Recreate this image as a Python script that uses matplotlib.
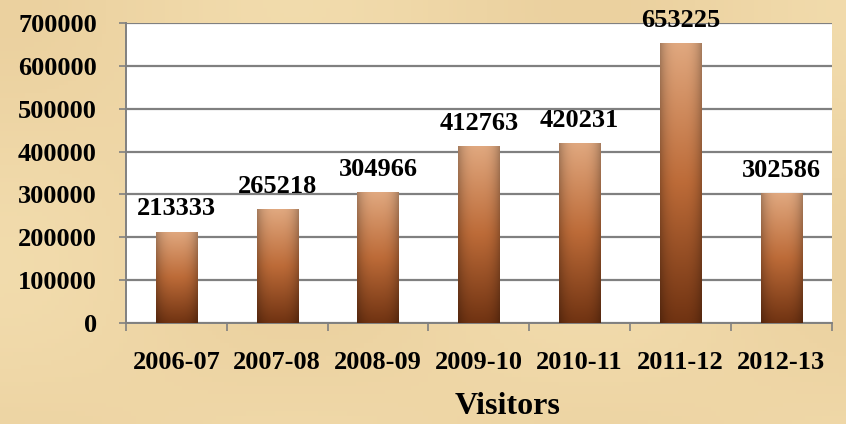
import matplotlib
matplotlib.use("Agg")
import matplotlib.pyplot as plt
import numpy as np

years = ["2006-07", "2007-08", "2008-09", "2009-10", "2010-11", "2011-12", "2012-13"]
visitors = [213333, 265218, 304966, 412763, 420231, 653225, 302586]
y_ticks = [0, 100000, 200000, 300000, 400000, 500000, 600000, 700000]

plt.rcParams['font.family'] = ['Liberation Serif', 'DejaVu Serif']
plt.rcParams['font.weight'] = 'bold'

fig = plt.figure(figsize=(8.46, 4.24), dpi=100)
fig.patch.set_facecolor('#efd9a8')

# parchment-ish background: soft tone change
bg = fig.add_axes([0, 0, 1, 1], zorder=-10)
gx = np.linspace(0, 1, 200)
gy = np.linspace(0, 1, 100)
GX, GY = np.meshgrid(gx, gy)
tone = 0.5 + 0.25 * np.cos(GX * 9) * np.cos(GY * 5)
c1 = np.array([0.96, 0.88, 0.70])
c2 = np.array([0.91, 0.80, 0.60])
bgimg = c1[None, None, :] * (1 - tone[..., None]) + c2[None, None, :] * tone[..., None]
bg.imshow(bgimg, aspect='auto', extent=[0, 1, 0, 1])
bg.axis('off')

ax = fig.add_axes([0.149, 0.238, 0.834, 0.708])
ax.set_facecolor('white')

x = np.arange(len(years))
bars = ax.bar(x, visitors, width=0.41, color='#b8652f', zorder=3, edgecolor='none')

# gradient fill: light tan at top to dark brown at bottom, darker edges
top = np.array([0.88, 0.66, 0.50])
mid = np.array([0.74, 0.42, 0.22])
bot = np.array([0.44, 0.20, 0.07])
ny, nx = 120, 40
t = np.linspace(0, 1, ny)[:, None]
col = np.where(t[..., None] < 0.5,
               top * (1 - 2 * t[..., None]) + mid * (2 * t[..., None]),
               mid * (2 - 2 * t[..., None]) + bot * (2 * t[..., None] - 1))
col = np.repeat(col, nx, axis=1)
u = np.linspace(-1, 1, nx)
shade = 1 - 0.25 * np.abs(u) ** 3
grad = np.clip(col * shade[None, :, None], 0, 1)
for b in bars:
    bx, by, bw, bh = b.get_x(), b.get_y(), b.get_width(), b.get_height()
    im = ax.imshow(grad, extent=[bx, bx + bw, by, by + bh], aspect='auto', zorder=3,
                   origin='upper')
    im.set_clip_path(b)

for xi, v in zip(x, visitors):
    ax.annotate(f"{v}", (xi, v), xytext=(0, 8), textcoords='offset points',
                ha='center', va='bottom', fontsize=19, fontweight='bold',
                annotation_clip=False, zorder=5)

ax.set_xlim(-0.5, len(years) - 0.5)
ax.set_ylim(0, 700000)
ax.set_yticks(y_ticks)
ax.set_yticklabels([str(v) for v in y_ticks], fontsize=19, fontweight='bold')
ax.set_xticks(x)
ax.set_xticklabels(years, fontsize=19, fontweight='bold')
ax.tick_params(axis='x', length=0, pad=20)
ax.set_xticks(np.arange(-0.5, len(years), 1), minor=True)
ax.tick_params(axis='x', which='minor', length=6, width=1.2, color='#808080', direction='out')
ax.tick_params(axis='y', length=5, width=1.2, color='#808080', pad=16)
ax.yaxis.grid(True, color='#808080', linewidth=1.6, zorder=1)
ax.set_axisbelow(True)
for s in ['top', 'right']:
    ax.spines[s].set_visible(False)
for s in ['left', 'bottom']:
    ax.spines[s].set_color('#808080')
    ax.spines[s].set_linewidth(1.4)

fig.text(0.600, 0.042, "Visitors", ha='center', va='center', fontsize=23, fontweight='bold')

fig.savefig("out.png", dpi=100, facecolor=fig.get_facecolor())
